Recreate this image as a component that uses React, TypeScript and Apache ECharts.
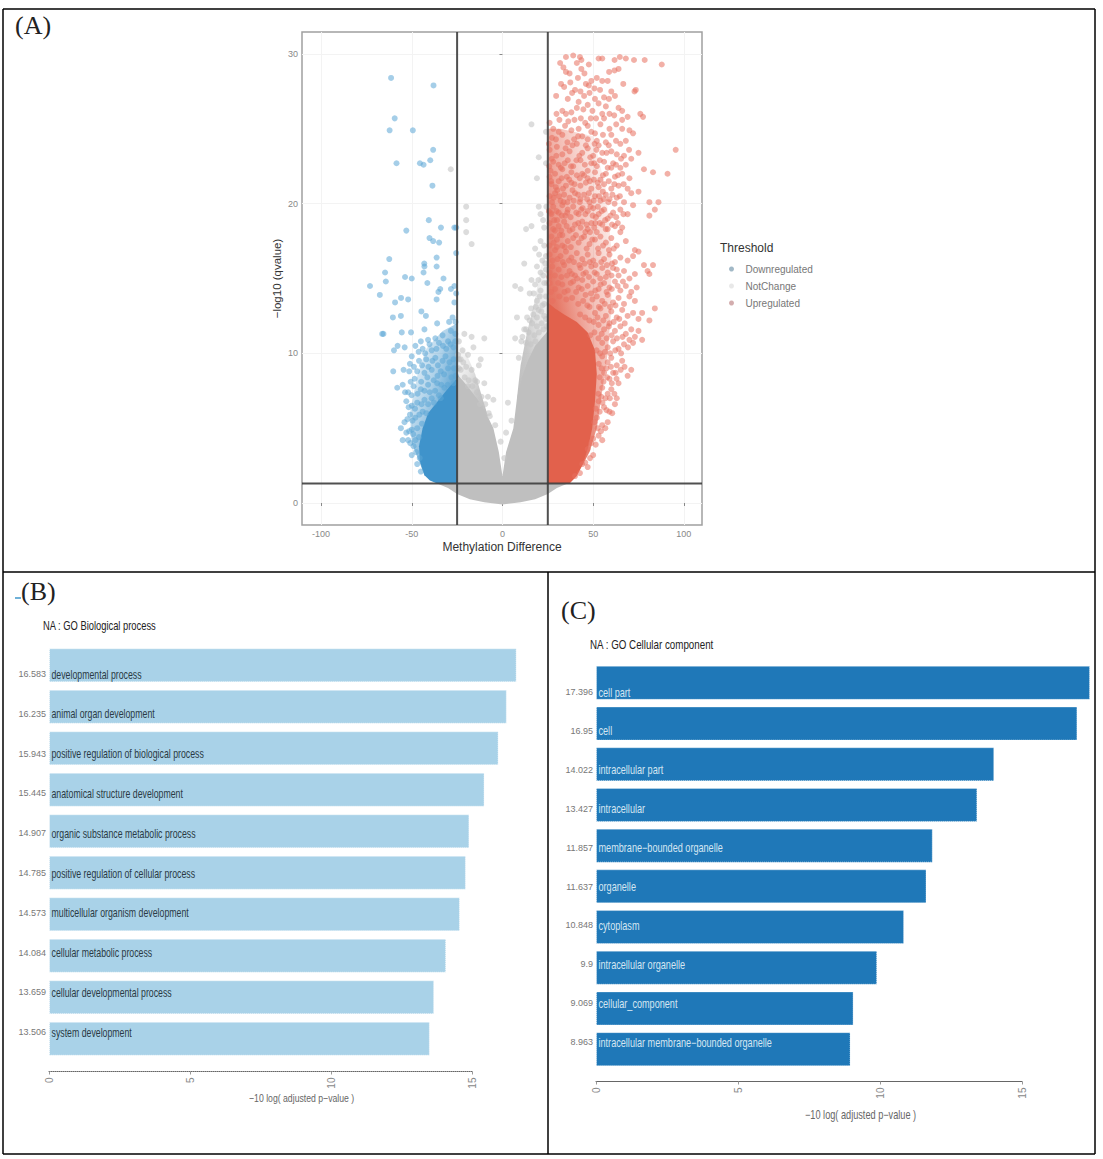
import React, { useEffect, useRef } from "react";
import * as echarts from "echarts";

// ---------- Panel A: volcano plot ----------
const xTicks = [-100, -50, 0, 50, 100];
const yTicks = [0, 10, 20, 30];
const thresholds = { left: -25, right: 25, q: 1.3 };

const upPointsSparse: number[][] = [
  [31.8,29.4],[35,29.8],[39,29.9],[42.7,29.8],[43.5,29.6],[41,29.4],[47.6,29.3],[53,29.7],[55,29.7],[61.8,29.6],[64.7,29.8],[68,29.7],[72.5,29.6],[78.4,29.6],[87.8,29.3],
  [35,28.8],[37,28.7],[43.5,29],[58.8,28.8],[61.8,28.9],[64,29],[46,28],[49,28.2],[52,28.4],[55,28.2],[58,28.2],[47.6,27.9],[32.3,28],[34,27.8],[40,27.6],[43,27.5],[66.6,28],[73.5,27.6],[72.8,27.5],
  [45,27.2],[48,27.4],[51,27],[56,27.1],[60,27.5],[62,27.2],[36,27],[47,26.6],[53,26.7],[57,26.5],[64,26.4],[33,26.2],[35,26],[38,26.1],[41,26.4],[55,26],[56,25.7],[66,26.2],[76,26],[77.5,25.8],[66,25.6],
  [26,25.4],[28,25],[31,24.8],[34.5,25.2],[38,24.9],[42,25],[47,25.2],[51,24.7],[54,25.3],[59,25],[60,24.6],[66,25],[70,24.9],[44,24.5],[47,24.3],[49,24.8],[52,24.2],[57,24.1],[65,24],[68,24.2],
  [26,23.6],[30,23.8],[33,23.3],[37,23.5],[41,24],[44,23.4],[47,23.7],[50,23.2],[53,23.9],[55,23.4],[60,23.5],[63,23.3],[67,23.2],[71,23],[75,23.4],[95.5,23.6],[28,22.8],[31,22.6],[36,22.9],[39,22.5],[43,22.9],[49,22.7],[52,22.5],[56,22.8],[58,22.4],[61,22.7],[65,22.4],[68,22.6],
  [26.5,22.2],[29,22],[33,22.3],[35.5,21.8],[38,22.1],[41,21.9],[44,22],[47,21.7],[51,22.1],[54,21.6],[57,22],[60,22.4],[62,21.8],[66,22],[70,21.7],[78,22.3],[83,22.1],[91,22],[27,21.3],[31,21.5],[35,21.2],[38,21.4],[43,21.2],[46,21.4],[49,21],[53,21.1],[56,21.3],[60,21],[64,21.2],[69,21],[71,20.7],[75,20.8],
  [26,20.5],[29,20.7],[32,20.2],[34,20.6],[37,20.4],[40,20.7],[43,20.3],[45,20.6],[48,20.1],[51,20.5],[54,20.2],[57,20.6],[59,20.3],[63,20.4],[67,20.1],[72,19.9],[81,20.1],[86,20.1],[84,19.6],[28,19.8],[31,19.4],[33,19.9],[36,19.6],[39,19.8],[42,19.3],[47,19.5],[50,19.7],[53,19.3],[56,19.6],[58,19],[61,19.4],[65,19.6],[69,19.3],[81,19.2],
  [26,18.7],[28.5,18.9],[31,18.5],[34,18.8],[37,18.2],[40,18.6],[44,18.8],[47,18.3],[49,18.7],[52,18.1],[55,18.6],[58,18.3],[62,18.5],[65,18.1],[66,18.4],[27,17.8],[30,17.6],[33,17.9],[36,17.5],[39,17.7],[42,17.4],[45,17.8],[48,17.3],[51,17.6],[54,17.8],[57,17.4],[60,17.7],[63,17.2],[68,17.5],[73,16.9],[75,16.8],
  [26,16.6],[29,16.9],[32,16.5],[35,16.8],[38,16.4],[41,16.7],[44,16.3],[47,16.6],[50,16.2],[53,16.7],[56,16.3],[59,16.6],[62,16.1],[65,16.4],[69,16.2],[72,16.5],[27.5,15.8],[31,15.6],[34,15.9],[37,15.5],[43,15.7],[46,15.4],[49,15.8],[52,15.3],[55,15.7],[58,15.4],[61,15.7],[64,15.2],[67,15.5],[70,15],[73,15.3],[78,15.9],[80,15.5],[83,15.9],[81,15.3],
  [44,14.9],[47,14.5],[50,14.8],[53,14.3],[56,14.7],[59,14.4],[62,14.8],[65,14.2],[68,14.5],[71,14.1],[74,14.4],[52,13.8],[55,13.5],[58,13.9],[61,13.4],[64,13.7],[67,13.3],[70,13.8],[73,13.5],[84,13],
  [48,13.1],[51,12.7],[54,13],[57,12.5],[60,12.8],[63,12.4],[66,12.9],[69,12.5],[72,12.7],[75,12.3],[77,12.7],[81,12.2],[53,11.9],[56,11.6],[59,12],[62,11.5],[65,11.8],[68,11.3],[71,11.6],[73,11.1],[75,11.5],[72,10.7],[55,10.7],[58,10.4],[61,10.8],[64,10.3],[67,10.6],[70,10.9],[77,10.9],
  [55,9.8],[58,9.4],[60,9.7],[63,9.2],[66,9.5],[69,8.5],[71,8.9],[56,8.7],[59,8.3],[61,8.7],[64,8],[55,7.7],[58,7.3],[60,7.6],[63,7],[53,6.8],[56,6.4],[59,6.1],[62,6.6],[52,5.7],[55,5.2],[58,5.4],[50,4.3],[53,4.5],[55,4.2],[47,3.6],[50,3.2],[44,2.6],[47,2.4],[40,1.8],
  [26,14.7],[29,14.3],[33,14.6],[36,14.2],[39,14.8],[42,14.4],[27,19.3],[29,18.2],[30,17.1],[33,17.2],[26,15.4],[40,15.2],[25.6,24],[25.8,22.5],[26,21.8],[25.6,19.5]
];

const upPointsExtra: number[][] = [
  [27.3,20.1],[30.2,20.9],[33.4,21],[35.8,20.1],[38.6,20.9],[41.7,20.6],[44.2,19.7],[46.7,20.3],[49.7,19.2],[52.6,19.8],[55.3,20.8],[58.4,20.1],[61.8,20],[37.6,19.1],[34.7,19.2],[30.1,18.9],[43.1,18.4],[45.7,18.1],[50.6,18.4],[53.7,18.7],[56.6,18.9],[59.6,19.2],
  [25.9,17.2],[28.2,17.4],[31.6,17.9],[34.4,17.1],[37.7,17.1],[40.5,17.9],[43.6,17.7],[46.4,17],[49.5,17.6],[52.7,17],[55.5,17.2],[58.7,16.9],[61.4,17],[27.6,16.2],[30.4,16.3],[33.3,16.1],[36.6,16.2],[39.4,16.1],[42.4,15.9],[45.3,16],[48.2,16.1],[51.3,15.9],[54.5,16.1],[57.6,15.9],[60.4,16],
  [25.8,15.1],[28.9,15.2],[32.5,15.1],[35.6,15.2],[38.3,15.3],[41.2,15],[44.6,15.3],[47.7,15.1],[50.8,15.4],[53.9,15],[57,15.1],[60.1,15.2],[63,15.6],[26.8,14.1],[30.7,14.7],[34.2,14.1],[37.6,14.7],[40.6,14.1],[43.7,14.3],[45.8,13.9],[48.8,14],[51.2,14.2],[54.1,14.6],[57.4,14.1],[60.3,14.3],[63.5,14.5],[66.4,14.8],
  [27.7,13.5],[31.4,13.8],[35.2,13.6],[38.4,13.7],[41.8,13.3],[44.5,13.5],[46.8,13.2],[49.6,13.6],[53.2,13.1],[56.4,13.3],[59.3,13.1],[62.3,13.2],[42.8,12.6],[45.6,12.4],[47.9,12.2],[50.3,12.1],[52.4,12.4],[55.6,12.2],[58.6,11.8],[61.3,12.1],[64.4,12.3],[67.4,12],
  [48.4,11.2],[50.7,11.4],[52.9,11],[54.7,11.3],[57.4,11],[60.2,11.2],[63.1,11],[66.2,11.1],[69.2,10.4],[51.9,10.2],[53.8,10],[56.5,10.1],[59.4,10],[62.2,10.2],[65.4,10],[53.1,9.3],[54.6,9],[57.3,9],[59.8,9.1],[62.4,8.7],[65.2,8.9],[67.3,9.1],[53.6,8.4],[55.7,8.1],[57.7,8.4],[60.3,8],[62.9,8.3],[52.8,7.3],[54.5,7.1],[56.8,7],[59.2,7],[61.7,7.3],[51.4,6.3],[53.6,6.1],[55.1,6.7],[57.4,6.2],[60.5,6],[50.6,5.4],[52.5,5],[54.3,4.8],[56.7,5],[48.9,4],[51.4,3.9],[48.3,3],[45.6,2.7],[42.7,2]
];

const upPointsUpper: number[][] = [
  [33.6,29.1],[37.4,28.1],[41.6,28.4],[45.2,28.7],[50.7,27.7],[53.8,27.6],[58.7,27],[29.6,27.2],[38.4,27.4],[42,26.8],[44.6,26.3],[49.6,26.2],[51.6,25.7],[59,26],[61.6,25.9],[69,25.8],[29.8,26],[31.4,25.6],[36.3,25.5],[39.7,25.6],[43.2,25.7],[45.6,25.4],[48.7,25.7],[62.7,25.3],[72,24.7],[27.3,24.4],[29.5,24.3],[33,24.6],[35.8,24.1],[39.5,24.3],[41.7,24.5],[46,23.9],[50.8,24],[55.4,24.6],[62.6,24.2],[34.8,23.7],[38.6,23.9],[42.4,23.2],[48.4,23.1],[51.8,23.6],[57.4,23.4],[58.6,23.9],[65.4,23],[69.8,23.6],[27.2,23],[29.7,23.2],[32.2,22.4],[34.3,22.7],[37.8,22.5],[40.8,22.9],[45.4,22.6],[47,22.2],[50.6,22.7],[53.7,22.9],[62.6,22.6],[26.8,21.5],[29.4,21.1],[32.6,21.7],[36.8,21.6],[39.7,21.3],[42.6,21.7],[45,21.9],[48.2,21.5],[50.4,21.6],[52.5,21.4],[55.4,21.9],[58.6,21.5],[61.7,21.3],[63.7,21.9],[66.8,21.3],[28.2,20.4],[31.2,20.5],[33.7,20.1],[39.3,20.2],[42.6,20.1],[47.6,20.7],[50.3,20.2],[53.2,20.5],[55.8,20.3],[60.6,20.6],[64.7,20.5],[26.6,19.4],[29.8,19.5],[32.7,19.2],[35.7,19.4],[40.7,19.4],[43.4,19.6],[45.7,19.3],[48.5,19.8],[51.5,19.1],[54.7,19.5],[62.7,19.1],[66.7,19.3],[28,18.3],[32.4,18.2],[35.4,18.5],[38.6,18.3],[41.8,18.7],[46.4,18.6],[48.3,18.1],[51.2,18.7],[56.9,18.3],[60.4,18.6],[63.6,18.7]
];

const downPointsSparse: number[][] = [
  [-61.4,28.4],[-38,27.9],[-59.4,25.7],[-62.2,24.9],[-49.4,24.9],[-38.2,23.6],[-58.4,22.7],[-45.5,22.7],[-43.5,22.6],[-39.8,22.9],[-38.6,21.2],[-40.6,18.9],[-53,18.2],[-33.9,18.4],[-26.5,18.4],[-25.5,18.4],[-40.2,17.7],[-38.2,17.5],[-34.9,17.4],[-25.5,16.7],[-62.4,16.3],[-36.3,16.4],[-43.1,16],[-43,15.8],[-36.3,15.8],[-64.7,15.4],[-64.3,14.8],[-53.7,15.1],[-50,15],[-43.5,15.4],[-32.5,15],[-41.4,14.7],[-73,14.5],[-67.6,13.9],[-59.2,13.4],[-55.9,13.7],[-52,13.6],[-34.3,14.3],[-35.3,14.1],[-26.5,14.5],[-28.4,14.3],[-25.5,14],[-36.3,13.6],[-26.5,13.4],[-44.7,12.8],[-42.2,12.5],[-60.4,12.4],[-56,12.5],[-36,12],[-27.5,12.4],[-29.4,12.1],[-25.9,12.1],[-43,11.6],[-66.3,11.3],[-65.6,11.3],[-55.5,11.4],[-50.4,11.4],[-28.4,11.5],[-26,11.3],[-33,11.2],[-37,11],[-41,10.9],[-45,10.8],[-30,10.8],[-35,10.7],[-59.8,10.2],[-57.8,10.5],[-53.9,10.4],[-48,10.5],[-44,10.3],[-39,10.2],[-31,10.3],[-27,10.4],[-60.2,8.8],[-54.5,8.9],[-51.4,8.8],[-50,9.8],[-51,9.3],[-46,9.5],[-42,9.6],[-37,9.7],[-33,9.5],[-27,9.6],[-47,8.8],[-43,8.7],[-39,8.9],[-34,8.8],[-30,9],[-55,7.9],[-58,7.7],[-52,7.4],[-49,7.8],[-45,7.6],[-41,7.9],[-36,8],[-32,7.7],[-53,6.8],[-50,6.5],[-47,6.7],[-43,6.9],[-39,7],[-35,7.2],[-51,5.9],[-48,5.7],[-44,6.1],[-56,5],[-54,5.4],[-53,4.7],[-50,4.9],[-55,4.2],[-52,4.2],[-49,3.8],[-50,3.2],[-47,2.6],[-45,2.1]
];

const downPointsExtra: number[][] = [
  [-26,10.8],[-28.6,10.6],[-32.8,10.5],[-36.4,10.3],[-40.2,10.6],[-42.6,10],[-46.2,10.1],[-26.8,9],[-29.2,9.4],[-31.4,9.8],[-35.6,9.2],[-38.6,9.5],[-40.8,9.1],[-44.3,9.2],[-48.8,9.1],[-25.8,8.5],[-28.1,8.4],[-32.2,8.6],[-35.8,8.5],[-37.9,8.2],[-41.4,8.4],[-44.8,8.1],[-48.4,8.3],[-50.6,8.1],[-27,8],[-30.2,7.9],[-33.7,7.9],[-37.1,7.5],[-40.1,7.4],[-43,7.5],[-46.8,7.3],[-50.1,7.2],[-53.7,7.4],[-34,7],[-37.8,6.7],[-41,6.6],[-44.6,6.6],[-48.2,6.3],[-51.7,6.4],[-42,6],[-45.8,5.9],[-49.6,5.5],[-52.4,5.6],[-44.4,5.3],[-47,5],[-49.2,4.6],[-51.4,4.8],[-46,4.4],[-48,4.2],[-50.8,4],[-47.6,3.4],[-45.6,3]
];

const notChangePointsSparse: number[][] = [
  [16,25.3],[24,24.8],[20,23.1],[19,21.7],[24,22.7],[-28.5,22.3],[-20,19.8],[-20,18.9],[20,19.8],[21,19.3],[-20,18.1],[13,18.3],[16,18.5],[23,18.4],[-17,17.3],[18,17],[21,17.5],[23,17.2],[24,16.5],[12,16],[22,16.2],[19,15.8],[21,15.4],[24,15.6],[16,14.9],[7,14.5],[10,14.3],[18,14.6],[21,14.2],[23,14.7],[15,14],[19,13.5],[22,13.2],[24,13.8],[20,12.9],[17,12.6],[23,12.5],[8,12.4],[15,12.2],[19,11.8],[13,11.6],[-21,11.3],[-17,11.1],[-10,11],[7,11],[11,11.1],[-22,10.2],[-24,10.8],[-19,9.9],[-16,10.4],[-12,9.6],[-23,9.6],[-20,9.1],[-17,8.9],[-13,9.2],[9,9.7],[-24,9],[-15,8.2],[-10,8],[-14,7.4],[-8,7.1],[-5,6.9],[3,6.7],[5,5.5],[-7,5.8],[-4,5.2],[2,4.7],[-1,4.1],[1,3]
];

const notChangePointsExtra: number[][] = [
  [24.2,19.8],[22.4,18.9],[23.6,16],[20.2,16.6],[22.6,15.2],[24.4,14.7],[19.8,14.9],[17.2,14],[20.6,13.8],[23,13.3],[15.8,13],[18.4,13.1],[21.4,12.8],[24,12.3],[13.6,12.4],[16.4,12],[19,12.4],[21.6,12],[24.3,11.8],[12,11.6],[14.4,11.4],[17.6,11.2],[20.1,11.4],[22.6,11.6],[10.4,10.8],[13,10.7],[15.6,10.6],[18.2,10.8],[-24.4,9.9],[-23,8.9],[-21.6,9.4],[-20.8,8.4],[-18.6,8.2],[-16.6,7.8],[-19,7.8],[-14,8.1],[-11.5,7.1],[-9.5,6.6],[-24,9.6],[-12.4,6.6],[-7.6,6]
];

const upPoints = [...upPointsSparse, ...upPointsExtra, ...upPointsUpper];
const downPoints = [...downPointsSparse, ...downPointsExtra];
const notChangePoints = [...notChangePointsSparse, ...notChangePointsExtra];

const upDense = [[25,1.3],[37,1.3],[41,1.8],[44,2.5],[47,3.6],[49.5,5],[51,6.8],[52,8.6],[51,10.2],[47,11.4],[41,12.1],[34,12.6],[29,13],[25,13.4]];
const upFade = [[25,9],[44,2.5],[48,3.4],[52,5],[55,7.5],[58,10],[60,13],[60,17],[57,21],[50,24.5],[32,25],[25,25]];
const downDense = [[-25,1.3],[-36,1.3],[-40,1.5],[-43,1.85],[-45.5,2.8],[-46,3.8],[-44,5],[-41,6],[-37,6.6],[-33,7.2],[-29,7.8],[-25,8.3]];
const downFade = [[-25,5],[-43,1.85],[-46,2.8],[-50,4],[-51,6],[-47,8.5],[-42,10.3],[-33,11.5],[-25,12]];
const grayDense = [[0,1.8],[-2,3.4],[-5,5],[-9,6],[-13,6.8],[-18,7.6],[-22,8.2],[-25,8.6],[-25,1.3],[-36,1.3],[-30,1],[-25,0.6],[-18,0.25],[-10,0.05],[0,-0.1],[10,0.05],[18,0.25],[25,0.6],[30,1],[36,1.3],[25,1.3],[25,11.5],[18,10.5],[14,9.5],[11,8.5],[8,7],[6,5],[2,3.4]];
const grayFadeRight = [[8,7],[25,8],[25,18],[21.6,16],[17.6,13.4],[13.7,11.5],[10,9.2]];
const grayFadeLeft = [[-8,5.8],[-25,7],[-25,11],[-20,10],[-15,8.6]];

// ---------- Panels B and C: GO bars ----------
const bpNames = ["developmental process","animal organ development","positive regulation of biological process","anatomical structure development","organic substance metabolic process","positive regulation of cellular process","multicellular organism development","cellular metabolic process","cellular developmental process","system development"];
const bpValues = [16.583,16.235,15.943,15.445,14.907,14.785,14.573,14.084,13.659,13.506];
const ccNames = ["cell part","cell","intracellular part","intracellular","membrane\u2212bounded organelle","organelle","cytoplasm","intracellular organelle","cellular_component","intracellular membrane\u2212bounded organelle"];
const ccValues = [17.396,16.95,14.022,13.427,11.857,11.637,10.848,9.9,9.069,8.963];
const barTicks = [0,5,10,15];

const sans = "Liberation Sans, Arial, sans-serif";
const serif = "Liberation Serif, DejaVu Serif, serif";

function polygon(name: string, pts: number[][], fill: any, opacity: number, z: number) {
  return {
    type: "custom", name, coordinateSystem: "cartesian2d", xAxisIndex: 0, yAxisIndex: 0, z, silent: true, data: [[0, 0]],
    clip: false,
    renderItem: (_p: any, api: any) => ({
      type: "polygon",
      shape: { points: pts.map((p) => api.coord(p)) },
      style: { fill, opacity },
    }),
  };
}

// Gradient running towards the sparse edge of the cloud: dir = 1 up-right, dir = -1 up-left.
function fade(rgb: string, dir: number) {
  const [x0, x1] = dir > 0 ? [0, 0.85] : [1, 0.15];
  return new echarts.graphic.LinearGradient(x0, 0.9, x1, 0, [
    { offset: 0, color: `rgba(${rgb},1)` },
    { offset: 0.3, color: `rgba(${rgb},0.85)` },
    { offset: 0.6, color: `rgba(${rgb},0.42)` },
    { offset: 1, color: `rgba(${rgb},0.03)` },
  ]);
}

function scatter(name: string, data: number[][], color: string, opacity: number, z: number) {
  return { type: "scatter", name, data, symbolSize: 6, xAxisIndex: 0, yAxisIndex: 0, z, silent: true, itemStyle: { color, opacity } };
}

function refLine(data: number[][]) {
  return { type: "line", data, xAxisIndex: 0, yAxisIndex: 0, z: 9, silent: true, symbol: "none", lineStyle: { color: "#3d3d3d", width: 2, opacity: 0.9 } };
}

function barSeries(idx: number, values: number[], fill: string, edge: string) {
  return {
    type: "bar", xAxisIndex: idx, yAxisIndex: idx, data: values, barWidth: 34, clip: false, silent: true,
    itemStyle: { color: fill, borderColor: edge, borderWidth: 1, borderType: "dotted" },
  };
}

function nameLabels(idx: number, names: string[], fill: string, sx: number) {
  return {
    type: "custom", coordinateSystem: "cartesian2d", xAxisIndex: idx, yAxisIndex: idx, silent: true, z: 5,
    data: names.map((_, i) => [0, i]), clip: false,
    renderItem: (p: any, api: any) => {
      const pt = api.coord([0, p.dataIndex]);
      return {
        type: "text", x: pt[0] + 2.5, y: pt[1], scaleX: sx,
        style: { text: names[p.dataIndex], fill, fontFamily: sans, fontSize: 12, verticalAlign: "middle" },
      };
    },
  };
}

function barX(idx: number, lineType: string) {
  return {
    gridIndex: idx, type: "value", min: 0, max: 15, offset: 12,
    splitLine: { show: false },
    axisLine: { show: true, onZero: false, lineStyle: { color: "#666", width: 1, type: lineType } },
    axisTick: { show: true, length: 3, inside: false, lineStyle: { color: "#999" }, customValues: barTicks },
    axisLabel: { rotate: 90, color: "#888", fontSize: 10, fontFamily: sans, margin: 6, customValues: barTicks },
  };
}

function hiddenY(idx: number, n: number) {
  return { gridIndex: idx, type: "category", inverse: true, data: Array.from({ length: n }, (_, i) => String(i)), show: false };
}

function labelX(idx: number) {
  return { gridIndex: idx, type: "value", min: 0, max: 15, show: false, splitLine: { show: false } };
}

function labelY(idx: number, labels: number[]) {
  return {
    gridIndex: idx, type: "category", inverse: true, data: labels.map(String),
    axisLine: { show: false }, axisTick: { show: false },
    axisLabel: { color: "#777", fontSize: 9, fontFamily: sans, margin: 3, padding: [3, 0, 0, 0] },
  };
}

function text(x: number, y: number, t: string, o: any, sx = 1) {
  return { type: "text", x, y, scaleX: sx, silent: true, style: { text: t, fill: "#222", fontFamily: sans, fontSize: 11, verticalAlign: "middle", ...o } };
}

function frame(x1: number, y1: number, x2: number, y2: number) {
  return { type: "line", silent: true, shape: { x1, y1, x2, y2 }, style: { stroke: "#000", lineWidth: 1.5 } };
}

export default function App() {
  const ref = useRef<HTMLDivElement>(null);
  useEffect(() => {
    document.body.style.margin = "0";
    const chart = echarts.init(ref.current!, undefined, { renderer: "svg" });
    chart.setOption({
      animation: false,
      backgroundColor: "#fff",
      grid: [
        { left: 302, top: 32, width: 400, height: 493, show: true, borderColor: "#a0a0a0", borderWidth: 1.5, backgroundColor: "transparent" },
        { left: 49, top: 644.5, width: 423, height: 415 },
        { left: 596, top: 662.5, width: 426, height: 407 },
        { left: 49, top: 654.1, width: 423, height: 398 },
        { left: 596, top: 672.55, width: 426, height: 389 },
      ],
      xAxis: [
        {
          gridIndex: 0, type: "value", min: -110.5, max: 110,
          name: "Methylation Difference", nameLocation: "middle", nameGap: 16,
          nameTextStyle: { color: "#333", fontSize: 12, fontFamily: sans },
          axisLine: { show: false },
          axisTick: { length: 3, lineStyle: { color: "#888" }, customValues: xTicks },
          axisLabel: { color: "#888", fontSize: 9, fontFamily: sans, margin: 4, customValues: xTicks },
          splitLine: { show: true, lineStyle: { color: "#f3f3f3", width: 1 } },
        },
        barX(1, "dotted"),
        barX(2, "solid"),
        labelX(3),
        labelX(4),
      ],
      yAxis: [
        {
          gridIndex: 0, type: "value", min: -1.47, max: 31.47,
          name: "\u2212log10 (qvalue)", nameLocation: "middle", nameGap: 19, nameRotate: 90,
          nameTextStyle: { color: "#333", fontSize: 11.5, fontFamily: sans },
          axisLine: { show: false },
          axisTick: { length: 3, lineStyle: { color: "#888" }, customValues: yTicks },
          axisLabel: { color: "#888", fontSize: 9, fontFamily: sans, margin: 4, customValues: yTicks },
          splitLine: { show: true, lineStyle: { color: "#f3f3f3", width: 1 } },
        },
        hiddenY(1, bpValues.length),
        hiddenY(2, ccValues.length),
        labelY(3, bpValues),
        labelY(4, ccValues),
      ],
      legend: {
        orient: "vertical", left: 724, top: 259, itemWidth: 14, itemHeight: 5, itemGap: 7, icon: "circle",
        selectedMode: false,
        textStyle: { color: "#777", fontSize: 10, fontFamily: sans, padding: [0, 0, 0, 2] },
        data: [
          { name: "Downregulated", itemStyle: { color: "#8aa6b8", opacity: 0.8 } },
          { name: "NotChange", itemStyle: { color: "#e2e2e2", opacity: 0.8 } },
          { name: "Upregulated", itemStyle: { color: "#c8989a", opacity: 0.8 } },
        ],
      },
      series: [
        polygon("NotChange", grayFadeLeft, fade("191,191,191", -1), 1, 1),
        polygon("NotChange", grayFadeRight, fade("191,191,191", 1), 1, 1),
        polygon("NotChange", grayDense, "#bfbfbf", 1, 2),
        scatter("NotChange", notChangePoints, "#c4c4c4", 0.6, 3),
        polygon("Downregulated", downFade, fade("63,147,203", -1), 1, 3),
        polygon("Downregulated", downDense, "#3f93cb", 1, 4),
        scatter("Downregulated", downPoints, "#5ba5d5", 0.55, 5),
        polygon("Upregulated", upFade, fade("226,97,76", 1), 1, 3),
        polygon("Upregulated", upDense, "#e2614c", 1, 4),
        scatter("Upregulated", upPoints, "#e8705e", 0.55, 5),
        refLine([[thresholds.left, -1.47], [thresholds.left, 31.47]]),
        refLine([[thresholds.right, -1.47], [thresholds.right, 31.47]]),
        refLine([[-110.5, thresholds.q], [110, thresholds.q]]),
        barSeries(1, bpValues, "#a9d2e8", "rgba(255,255,255,0.75)"),
        barSeries(2, ccValues, "#1f78b8", "rgba(255,255,255,0.6)"),
        nameLabels(3, bpNames, "#2a3a44", 0.73),
        nameLabels(4, ccNames, "#d5e6f2", 0.76),
      ],
      graphic: [
        frame(3, 9, 1095, 9), frame(3, 9, 3, 1154), frame(1095, 9, 1095, 1154),
        frame(3, 572, 1095, 572), frame(548, 572, 548, 1154), frame(3, 1154, 1095, 1154),
        text(15, 25, "(A)", { fontFamily: serif, fontSize: 26 }),
        text(21, 591, "(B)", { fontFamily: serif, fontSize: 26 }),
        text(561, 610, "(C)", { fontFamily: serif, fontSize: 26 }),
        { type: "rect", silent: true, shape: { x: 15, y: 597, width: 6, height: 2 }, style: { fill: "#6fb1d8" } },
        text(720, 248, "Threshold", { fontSize: 12, fill: "#333" }),
        text(43, 626, "NA : GO Biological process", { fontSize: 12 }, 0.78),
        text(590, 645, "NA : GO Cellular component", { fontSize: 12 }, 0.815),
        text(249, 1098, "\u221210 log( adjusted p\u2212value )", { fontSize: 11, fill: "#666" }, 0.79),
        text(805, 1115, "\u221210 log( adjusted p\u2212value )", { fontSize: 12, fill: "#666" }, 0.765),
      ],
    });
    return () => chart.dispose();
  }, []);
  return <div ref={ref} style={{ position: "absolute", left: 0, top: 0, width: 1103, height: 1159 }} />;
}
